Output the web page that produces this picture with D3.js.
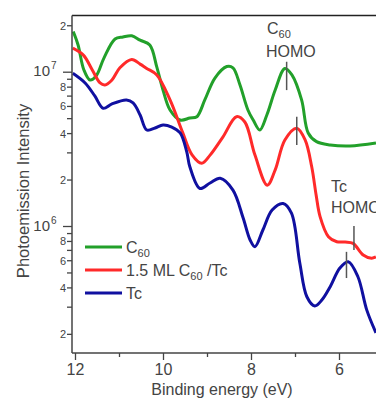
<!DOCTYPE html>
<html>
<head>
<meta charset="utf-8">
<script src="https://cdn.jsdelivr.net/npm/d3@7"></script>
<style>
  body { margin: 0; background: #fff; }
  text { font-family: "Liberation Sans", Arial, sans-serif; fill: #444; }
</style>
</head>
<body>
<div id="chart"></div>
<script>
// spectra (binding energy in eV, intensity in counts)
const c60Energy = [12.04, 11.93, 11.80, 11.66, 11.52, 11.34, 11.09, 10.91, 10.71, 10.52, 10.30, 10.14, 10.00, 9.84, 9.61, 9.39, 9.23, 9.05, 8.82, 8.55, 8.41, 8.25, 8.07, 7.95, 7.80, 7.64, 7.45, 7.23, 7.07, 6.85, 6.70, 6.51, 6.20, 5.75, 5.16];
const c60Intensity = [1.82e7, 1.49e7, 1.03e7, 8.84e6, 9.38e6, 1.23e7, 1.63e7, 1.68e7, 1.71e7, 1.60e7, 1.49e7, 1.07e7, 7.61e6, 5.65e6, 4.86e6, 5.01e6, 5.11e6, 6.56e6, 9.10e6, 1.08e7, 1.06e7, 8.20e6, 5.65e6, 4.86e6, 4.19e6, 5.24e6, 7.61e6, 1.05e7, 9.53e6, 6.56e6, 4.01e6, 3.52e6, 3.35e6, 3.30e6, 3.45e6];

const filmEnergy = [12.05, 11.81, 11.61, 11.43, 11.32, 11.16, 10.98, 10.71, 10.52, 10.37, 10.14, 9.84, 9.55, 9.34, 9.12, 8.93, 8.64, 8.33, 8.14, 7.91, 7.63, 7.45, 7.23, 6.96, 6.77, 6.62, 6.52, 6.43, 6.24, 6.05, 5.86, 5.68, 5.45, 5.26, 5.16];
const filmIntensity = [1.42e7, 1.28e7, 1.03e7, 8.45e6, 8.20e6, 8.84e6, 1.06e7, 1.20e7, 1.12e7, 1.05e7, 9.53e6, 6.56e6, 4.01e6, 2.89e6, 2.55e6, 2.88e6, 3.77e6, 5.11e6, 4.72e6, 2.88e6, 1.84e6, 2.31e6, 3.61e6, 4.30e6, 3.61e6, 2.42e6, 1.59e6, 1.15e6, 8.53e5, 7.91e5, 7.87e5, 7.72e5, 6.49e5, 6.18e5, 6.3e5];

const tcEnergy = [12.05, 11.77, 11.55, 11.36, 11.16, 10.83, 10.68, 10.52, 10.37, 10.18, 10.00, 9.80, 9.61, 9.46, 9.39, 9.16, 8.93, 8.70, 8.41, 8.18, 8.02, 7.91, 7.73, 7.52, 7.27, 7.08, 6.89, 6.73, 6.55, 6.39, 6.20, 5.98, 5.79, 5.57, 5.37, 5.16];
const tcIntensity = [9.77e6, 8.45e6, 6.96e6, 5.79e6, 6.18e6, 6.56e6, 6.27e6, 5.24e6, 4.19e6, 4.32e6, 4.52e6, 4.38e6, 4.01e6, 3.02e6, 2.42e6, 1.75e6, 1.90e6, 2.04e6, 1.71e6, 1.13e6, 8.11e5, 7.34e5, 9.42e5, 1.27e6, 1.40e6, 1.21e6, 5.73e5, 3.48e5, 3.03e5, 3.31e5, 4.04e5, 5.34e5, 5.87e5, 4.69e5, 2.86e5, 2.03e5];

const xTicks = [12, 10, 8, 6];
const xMinorTicks = [11, 9, 7, 5];
const yMajorTicks = [1e6, 1e7];
const yMinorTicks = [2e5, 3e5, 4e5, 5e5, 6e5, 7e5, 8e5, 9e5, 2e6, 3e6, 4e6, 5e6, 6e6, 7e6, 8e6, 9e6, 2e7];
const yLabelled = [2, 4, 6, 8];

const seriesNames = ["C60", "1.5 ML C60 /Tc", "Tc"];
const seriesColors = ["#22a02a", "#ff2a2a", "#1010a0"];

// HOMO markers: [energy, low intensity, high intensity]
const homoMarks = [[7.19, 7.6e6, 1.16e7], [6.96, 3.35e6, 5.1e6], [5.66, 7.0e5, 1.0e6], [5.83, 4.6e5, 6.8e5]];

(function() {
  let W = 376, H = 403;
  let plot = { left: 72, right: 376, top: 15.5, bottom: 353 };

  let svg = d3.select("#chart").append("svg")
    .attr("width", W).attr("height", H);

  let x = d3.scaleLinear().domain([12, 6]).range([75, 339]);
  let y = d3.scaleLog().domain([1e6, 1e7]).range([226, 71.7]);

  svg.append("clipPath").attr("id", "clip")
    .append("rect")
    .attr("x", plot.left).attr("y", plot.top)
    .attr("width", plot.right - plot.left).attr("height", plot.bottom - plot.top);

  let line = d3.line()
    .x(d => x(d[0]))
    .y(d => y(d[1]))
    .curve(d3.curveCatmullRom.alpha(0.5));

  let series = [
    d3.zip(c60Energy, c60Intensity),
    d3.zip(filmEnergy, filmIntensity),
    d3.zip(tcEnergy, tcIntensity)
  ];

  let gLines = svg.append("g").attr("clip-path", "url(#clip)");
  series.forEach(function(s, i) {
    gLines.append("path")
      .attr("d", line(s))
      .attr("fill", "none")
      .attr("stroke", seriesColors[i])
      .attr("stroke-width", 3)
      .attr("stroke-linejoin", "round");
  });

  // HOMO markers
  svg.append("g").selectAll("line").data(homoMarks).enter().append("line")
    .attr("x1", d => x(d[0])).attr("x2", d => x(d[0]))
    .attr("y1", d => y(d[1])).attr("y2", d => y(d[2]))
    .attr("stroke", "#555").attr("stroke-width", 1.5);

  // frame
  svg.append("line")
    .attr("x1", plot.left).attr("x2", plot.right)
    .attr("y1", plot.top).attr("y2", plot.top)
    .attr("stroke", "#222").attr("stroke-width", 1.5);

  // x axis
  let xAxis = d3.axisBottom(x)
    .tickValues(xTicks.concat(xMinorTicks))
    .tickFormat(d => xTicks.includes(d) ? d : "")
    .tickSizeOuter(0);

  let gx = svg.append("g")
    .attr("transform", "translate(0," + plot.bottom + ")")
    .call(xAxis);
  gx.select(".domain").attr("d", "M" + plot.left + ",0H" + plot.right)
    .attr("stroke", "#444").attr("stroke-width", 1.5);
  gx.selectAll(".tick line")
    .attr("stroke", "#444").attr("stroke-width", 1.3)
    .attr("y2", d => xTicks.includes(d) ? 7 : 4);
  gx.selectAll(".tick text")
    .attr("y", 22).attr("dy", null)
    .style("font-size", "16px").style("font-family", "Liberation Sans, Arial, sans-serif")
    .attr("fill", "#444");

  // y axis
  let yAxis = d3.axisLeft(y)
    .tickValues(yMajorTicks.concat(yMinorTicks))
    .tickFormat("")
    .tickSizeOuter(0);

  let gy = svg.append("g")
    .attr("transform", "translate(" + plot.left + ",0)")
    .call(yAxis);
  gy.select(".domain").attr("d", "M0," + plot.top + "V" + plot.bottom)
    .attr("stroke", "#444").attr("stroke-width", 1.5);
  gy.selectAll(".tick line")
    .attr("stroke", "#444").attr("stroke-width", 1.3)
    .attr("x2", d => yMajorTicks.includes(d) ? -9 : -5);

  gy.selectAll(".tick").each(function(d) {
    let g = d3.select(this);
    let mant = Math.round(d / Math.pow(10, Math.floor(Math.log10(d) + 1e-9)));
    if (yMajorTicks.includes(d)) {
      g.append("text")
        .attr("x", -22).attr("y", 4)
        .attr("text-anchor", "end")
        .style("font-size", "15px")
        .text("10");
      g.append("text")
        .attr("x", -21).attr("y", -3)
        .attr("text-anchor", "start")
        .style("font-size", "10px")
        .text(Math.round(Math.log10(d)));
    } else if (yLabelled.includes(mant)) {
      g.append("text")
        .attr("x", -6).attr("y", 4)
        .attr("text-anchor", "end")
        .style("font-size", "11px")
        .text(mant);
    }
  });

  // axis titles
  svg.append("text")
    .attr("x", 222).attr("y", 395)
    .attr("text-anchor", "middle")
    .style("font-size", "16px")
    .text("Binding energy (eV)");

  svg.append("text")
    .attr("transform", "translate(28.5,191) rotate(-90)")
    .attr("text-anchor", "middle")
    .style("font-size", "16.5px")
    .text("Photoemission Intensity");

  // HOMO labels
  let c60Label = svg.append("text").attr("x", 267).attr("y", 34).style("font-size", "16px");
  c60Label.append("tspan").text("C");
  c60Label.append("tspan").attr("dy", 4).style("font-size", "11px").text("60");
  svg.append("text").attr("x", 266).attr("y", 57).style("font-size", "16px").text("HOMO");

  svg.append("text").attr("x", 331).attr("y", 192).style("font-size", "16px").text("Tc");
  svg.append("text").attr("x", 331).attr("y", 213).style("font-size", "16px").text("HOMO");

  // legend
  let legendY = [247, 270, 293];
  let legend = svg.append("g");
  seriesNames.forEach(function(name, i) {
    legend.append("line")
      .attr("x1", 85).attr("x2", 122)
      .attr("y1", legendY[i]).attr("y2", legendY[i])
      .attr("stroke", seriesColors[i]).attr("stroke-width", 3);
    let t = legend.append("text")
      .attr("x", 126).attr("y", legendY[i] + 6)
      .style("font-size", "16px");
    let parts = name.split("C60");
    if (parts.length > 1) {
      t.append("tspan").text(parts[0] + "C");
      t.append("tspan").attr("dy", 4).style("font-size", "11px").text("60");
      if (parts[1]) t.append("tspan").attr("dy", -4).text(parts[1]);
    } else {
      t.text(name);
    }
  });
})();
</script>
</body>
</html>
